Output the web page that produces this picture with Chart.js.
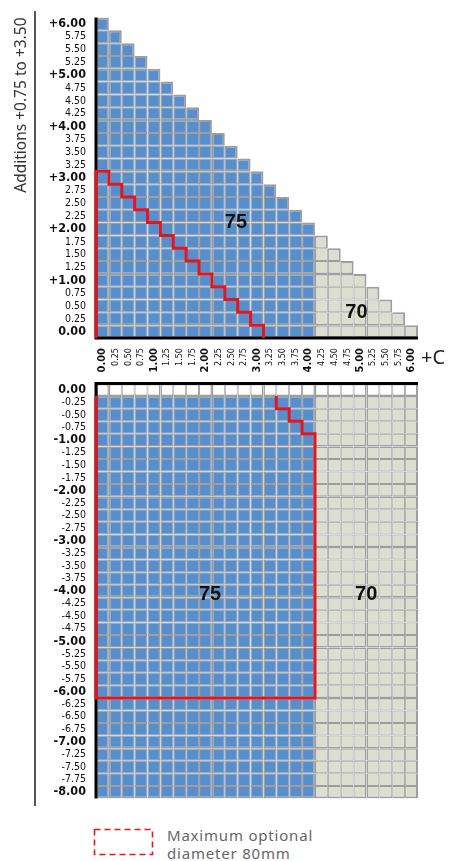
<!DOCTYPE html>
<html>
<head>
<meta charset="utf-8">
<script src="https://cdn.jsdelivr.net/npm/chart.js@4.4.1/dist/chart.umd.min.js"></script>
<style>
  body { margin: 0; background: #fff; }
  #wrap { position: relative; width: 450px; height: 861px; overflow: hidden; }
  canvas { position: absolute; left: 0; }
  #topChart { top: 0; }
  #bottomChart { top: 366px; }
  .vline { position: absolute; left: 34px; top: 11px; width: 1.5px; height: 795px; background: #555; }
  .plusC { position: absolute; left: 421px; top: 345px; font: 20px 'Noto Sans', sans-serif; color: #222; line-height: 24px; }
  .swatch { position: absolute; left: 93px; top: 828px; }
  .ltext { position: absolute; left: 167px; top: 826px; font: 15px 'Noto Sans', sans-serif; line-height: 18px;
           letter-spacing: 0.8px; color: #666; }
</style>
</head>
<body>
<div id="wrap">
  <canvas id="topChart" width="450" height="380"></canvas>
  <canvas id="bottomChart" width="450" height="450"></canvas>
  <div class="vline"></div>
  <div class="plusC">+C</div>
  <svg class="swatch" width="62" height="29">
    <rect x="1.5" y="1.5" width="58" height="25" fill="none" stroke="#e3161e" stroke-width="1.6" stroke-dasharray="6,4"/>
  </svg>
  <div class="ltext">Maximum optional<br>diameter 80mm</div>
</div>

<script>
// cylinder columns (same for both panels)
const cylValues = [0.00, 0.25, 0.50, 0.75, 1.00, 1.25, 1.50, 1.75, 2.00, 2.25, 2.50, 2.75, 3.00,
  3.25, 3.50, 3.75, 4.00, 4.25, 4.50, 4.75, 5.00, 5.25, 5.50, 5.75, 6.00];
const cylLabels = ['0.00', '0.25', '0.50', '0.75', '1.00', '1.25', '1.50', '1.75', '2.00', '2.25', '2.50',
  '2.75', '3.00', '3.25', '3.50', '3.75', '4.00', '4.25', '4.50', '4.75', '5.00', '5.25', '5.50', '5.75', '6.00'];

// plus sphere panel (rows top to bottom)
const topSpheres = [6.00, 5.75, 5.50, 5.25, 5.00, 4.75, 4.50, 4.25, 4.00, 3.75, 3.50, 3.25, 3.00,
  2.75, 2.50, 2.25, 2.00, 1.75, 1.50, 1.25, 1.00, 0.75, 0.50, 0.25, 0.00];
const topSphLabels = ['+6.00', '5.75', '5.50', '5.25', '+5.00', '4.75', '4.50', '4.25', '+4.00', '3.75',
  '3.50', '3.25', '+3.00', '2.75', '2.50', '2.25', '+2.00', '1.75', '1.50', '1.25', '+1.00', '0.75',
  '0.50', '0.25', '0.00'];
// highest cylinder made for each row
const topMaxCyl = [0.00, 0.25, 0.50, 0.75, 1.00, 1.25, 1.50, 1.75, 2.00, 2.25, 2.50, 2.75, 3.00,
  3.25, 3.50, 3.75, 4.00, 4.25, 4.50, 4.75, 5.00, 5.25, 5.50, 5.75, 6.00];
// 80mm option limit per row (null = not available)
const topRedMaxCyl = [null, null, null, null, null, null, null, null, null, null, null, null, 0.00,
  0.25, 0.50, 0.75, 1.00, 1.25, 1.50, 1.75, 2.00, 2.25, 2.50, 2.75, 3.00];

// minus sphere panel
const bottomSpheres = [0.00, -0.25, -0.50, -0.75, -1.00, -1.25, -1.50, -1.75, -2.00, -2.25, -2.50,
  -2.75, -3.00, -3.25, -3.50, -3.75, -4.00, -4.25, -4.50, -4.75, -5.00, -5.25, -5.50, -5.75, -6.00,
  -6.25, -6.50, -6.75, -7.00, -7.25, -7.50, -7.75, -8.00];
const bottomSphLabels = ['0.00', '-0.25', '-0.50', '-0.75', '-1.00', '-1.25', '-1.50', '-1.75', '-2.00',
  '-2.25', '-2.50', '-2.75', '-3.00', '-3.25', '-3.50', '-3.75', '-4.00', '-4.25', '-4.50', '-4.75',
  '-5.00', '-5.25', '-5.50', '-5.75', '-6.00', '-6.25', '-6.50', '-6.75', '-7.00', '-7.25', '-7.50',
  '-7.75', '-8.00'];
const bottomMaxCyl = 6.00;
const bottomBlankRows = [0.00];
const bottomRedMaxCyl = [null, 3.25, 3.50, 3.75, 4.00, 4.00, 4.00, 4.00, 4.00, 4.00, 4.00, 4.00, 4.00,
  4.00, 4.00, 4.00, 4.00, 4.00, 4.00, 4.00, 4.00, 4.00, 4.00, 4.00, 4.00, null, null, null, null,
  null, null, null, null];

// cylinders up to this value come in 75mm, above it 70mm
const dia75MaxCyl = 4.00;

const BLUE = '#578ecb';
const BEIGE = '#dcdecf';
const GRID = '#9e9e9e';
const RED = '#e3161e';
const NARROW = "'Liberation Sans Narrow', 'DejaVu Sans Condensed', sans-serif";
const HALF = 0.125;

const isWhole = v => Math.abs(v - Math.round(v)) < 1e-6;
// heavier line between a whole dioptre and the next quarter step
const sideWidth = (a, b) => isWhole(Math.abs(a) < Math.abs(b) ? a : b) ? 1.5 : 1;

function cellDatasets(spheres, maxCyl, blankRows) {
  const has = (r, i) => r >= 0 && r < spheres.length && i >= 0 && i < cylValues.length &&
    cylValues[i] <= maxCyl(r) + 1e-6;
  return spheres.map((s, r) => ({
    type: 'bar',
    order: 2,
    data: cylValues.map((c, i) => has(r, i) ? [s - HALF, s + HALF] : null),
    backgroundColor: cylValues.map(c => blankRows.includes(s) ? '#fff' : (c <= dia75MaxCyl ? BLUE : BEIGE)),
    borderColor: GRID,
    borderWidth: (ctx) => {
      const i = ctx.dataIndex;
      if (i === undefined) return 1;
      return {
        top: has(r - 1, i) ? sideWidth(s, spheres[r - 1]) : 2,
        bottom: has(r + 1, i) ? sideWidth(s, spheres[r + 1]) : 2,
        left: has(r, i - 1) ? sideWidth(cylValues[i], cylValues[i - 1]) : 2,
        right: has(r, i + 1) ? sideWidth(cylValues[i], cylValues[i + 1]) : 2
      };
    },
    borderSkipped: false,
    inflateAmount: 0,
    grouped: false,
    barPercentage: 1,
    categoryPercentage: 1
  }));
}

function lineDataset(points, color, order) {
  return {
    type: 'line',
    xAxisID: 'xl',
    order: order,
    data: points,
    borderColor: color,
    borderWidth: 3,
    pointRadius: 0,
    fill: false,
    tension: 0,
    borderJoinStyle: 'miter',
    clip: false
  };
}

// red outline around the 80mm option
function topRedPoints() {
  const pts = [];
  const first = topRedMaxCyl.findIndex(v => v !== null);
  pts.push({ x: cylValues[0] - HALF, y: topSpheres[topSpheres.length - 1] - HALF });
  pts.push({ x: cylValues[0] - HALF, y: topSpheres[first] + HALF });
  topSpheres.forEach((s, r) => {
    const m = topRedMaxCyl[r];
    if (m === null) return;
    pts.push({ x: m + HALF, y: s + HALF });
    pts.push({ x: m + HALF, y: s - HALF });
  });
  return pts;
}

function bottomRedPoints() {
  const pts = [];
  let firstS = null, lastS = null;
  bottomSpheres.forEach((s, r) => {
    const m = bottomRedMaxCyl[r];
    if (m === null) return;
    if (firstS === null) firstS = s;
    lastS = s;
    pts.push({ x: m + HALF, y: s + HALF });
    pts.push({ x: m + HALF, y: s - HALF });
  });
  pts.push({ x: cylValues[0] - HALF, y: lastS - HALF });
  pts.push({ x: cylValues[0] - HALF, y: firstS + HALF });
  return pts;
}

const zoneLabels = {
  id: 'zoneLabels',
  afterDatasetsDraw(chart, args, opts) {
    const { ctx, scales } = chart;
    ctx.save();
    ctx.font = "bold 20px 'Liberation Sans', Arial, sans-serif";
    ctx.fillStyle = '#111';
    ctx.textAlign = 'center';
    ctx.textBaseline = 'middle';
    (opts.items || []).forEach(it => {
      ctx.fillText(it.text, scales.xl.getPixelForValue(it.cyl), scales.y.getPixelForValue(it.sph));
    });
    ctx.restore();
  }
};

const sphFont = (ctx) => {
  const v = ctx.tick ? ctx.tick.value : 0;
  const whole = isWhole(v);
  return { family: NARROW, size: whole ? 12.5 : 10.5, weight: whole ? 'bold' : 'normal' };
};

function yScale(spheres, labels, min, max, title) {
  return {
    type: 'linear',
    min: min,
    max: max,
    afterBuildTicks: (scale) => { scale.ticks = spheres.map(v => ({ value: v })); },
    afterFit: (scale) => { scale.width = 96; },
    grid: { display: false, drawTicks: false },
    border: { display: false },
    ticks: {
      autoSkip: false,
      padding: 10,
      color: '#111',
      font: sphFont,
      callback: (value) => labels[spheres.findIndex(s => Math.abs(s - value) < 1e-6)]
    },
    title: title
  };
}

const xlScale = {
  type: 'linear',
  display: false,
  offset: false,
  min: cylValues[0] - HALF,
  max: cylValues[cylValues.length - 1] + HALF
};

// plus panel
const topXMin = cylValues[0] - HALF, topXMax = cylValues[cylValues.length - 1] + HALF;
const topYMin = topSpheres[topSpheres.length - 1] - HALF, topYMax = topSpheres[0] + HALF;

new Chart(document.getElementById('topChart'), {
  type: 'bar',
  data: {
    labels: cylLabels,
    datasets: [
      ...cellDatasets(topSpheres, r => topMaxCyl[r], []),
      lineDataset([{ x: topXMin, y: topYMax }, { x: topXMin, y: topYMin }, { x: topXMax, y: topYMin }], '#000', 1),
      lineDataset(topRedPoints(), RED, 0)
    ]
  },
  options: {
    responsive: false,
    animation: false,
    devicePixelRatio: 1,
    layout: { padding: { top: 10, right: 32, left: 0, bottom: 0 } },
    plugins: {
      legend: { display: false },
      tooltip: { enabled: false },
      zoneLabels: { items: [{ text: '75', cyl: 2.59, sph: 2.12 }, { text: '70', cyl: 4.93, sph: 0.37 }] }
    },
    scales: {
      x: {
        type: 'category',
        grid: { display: false, drawTicks: false },
        border: { display: false },
        afterFit: (scale) => { scale.height = 42; },
        ticks: {
          autoSkip: false,
          minRotation: 90,
          maxRotation: 90,
          padding: 10,
          color: '#111',
          font: (ctx) => {
            const whole = isWhole(cylValues[ctx.index] || 0);
            return { family: NARROW, size: whole ? 11 : 9, weight: whole ? 'bold' : 'normal' };
          }
        }
      },
      xl: xlScale,
      y: yScale(topSpheres, topSphLabels, topYMin, topYMax, {
        display: true,
        text: 'Additions +0.75 to +3.50',
        align: 'end',
        color: '#333',
        font: { family: "'Noto Sans', sans-serif", size: 15.5 },
        padding: { top: 12, bottom: 0 }
      })
    }
  },
  plugins: [zoneLabels]
});

// minus panel
const botYMin = bottomSpheres[bottomSpheres.length - 1] - HALF, botYMax = bottomSpheres[0] + HALF;

new Chart(document.getElementById('bottomChart'), {
  type: 'bar',
  data: {
    labels: cylLabels,
    datasets: [
      ...cellDatasets(bottomSpheres, r => bottomMaxCyl, bottomBlankRows),
      lineDataset([{ x: topXMax, y: botYMax }, { x: topXMin, y: botYMax }, { x: topXMin, y: botYMin }], '#000', 1),
      lineDataset(bottomRedPoints(), RED, 0)
    ]
  },
  options: {
    responsive: false,
    animation: false,
    devicePixelRatio: 1,
    layout: { padding: { top: 10, right: 32, left: 0, bottom: 8 } },
    plugins: {
      legend: { display: false },
      tooltip: { enabled: false },
      zoneLabels: { items: [{ text: '75', cyl: 2.09, sph: -4.07 }, { text: '70', cyl: 5.12, sph: -4.07 }] }
    },
    scales: {
      x: { type: 'category', display: false },
      xl: xlScale,
      y: yScale(bottomSpheres, bottomSphLabels, botYMin, botYMax, { display: false })
    }
  },
  plugins: [zoneLabels]
});
</script>
</body>
</html>
